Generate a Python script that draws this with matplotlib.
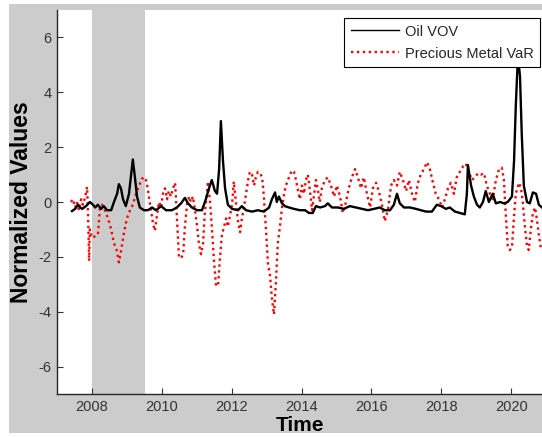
import matplotlib
matplotlib.use("Agg")
import matplotlib.pyplot as plt
from matplotlib.lines import Line2D
from matplotlib.patches import Rectangle

plt.rcParams['font.family'] = ['Liberation Sans', 'DejaVu Sans']
plt.rcParams['axes.unicode_minus'] = False

# Oil VOV (normalized)
oil_t = [2007.43, 2007.52, 2007.60, 2007.66, 2007.72, 2007.83, 2007.94, 2008.03, 2008.09, 2008.17,
         2008.26, 2008.34, 2008.43, 2008.55, 2008.63, 2008.72, 2008.77, 2008.83, 2008.89, 2008.97,
         2009.06, 2009.12, 2009.17, 2009.23, 2009.29, 2009.37, 2009.49, 2009.60, 2009.72, 2009.83,
         2009.98, 2010.12, 2010.29, 2010.43, 2010.55, 2010.66, 2010.75, 2010.86, 2011.01, 2011.15,
         2011.26, 2011.35, 2011.43, 2011.52, 2011.58, 2011.64, 2011.69, 2011.75, 2011.81, 2011.89,
         2012.01, 2012.18, 2012.29, 2012.41, 2012.58, 2012.75, 2012.92, 2013.07, 2013.15, 2013.24,
         2013.29, 2013.35, 2013.44, 2013.52, 2013.64, 2013.78, 2013.95, 2014.10, 2014.21, 2014.32,
         2014.41, 2014.53, 2014.67, 2014.75, 2014.87, 2015.04, 2015.21, 2015.38, 2015.56, 2015.73,
         2015.90, 2016.07, 2016.24, 2016.38, 2016.53, 2016.64, 2016.73, 2016.81, 2016.93, 2017.10,
         2017.27, 2017.41, 2017.56, 2017.73, 2017.87, 2017.99, 2018.13, 2018.24, 2018.39, 2018.53,
         2018.67, 2018.73, 2018.76, 2018.85, 2018.93, 2019.02, 2019.10, 2019.19, 2019.27, 2019.36,
         2019.47, 2019.56, 2019.68, 2019.79, 2019.90, 2020.02, 2020.08, 2020.13, 2020.19, 2020.25,
         2020.30, 2020.36, 2020.45, 2020.53, 2020.62, 2020.71, 2020.79, 2020.88]
oil_v = [-0.33, -0.25, -0.10, -0.20, -0.25, -0.15, 0.00, -0.10, -0.20, -0.10,
         -0.25, -0.15, -0.30, -0.30, 0.00, 0.30, 0.65, 0.50, 0.10, -0.15,
         0.30, 1.00, 1.55, 0.90, 0.20, -0.20, -0.30, -0.30, -0.20, -0.30,
         -0.15, -0.30, -0.30, -0.20, -0.05, 0.15, -0.05, -0.20, -0.30, -0.30,
         0.10, 0.50, 0.80, 0.40, 0.30, 1.20, 2.95, 1.50, 0.50, -0.10,
         -0.25, -0.30, -0.15, -0.30, -0.35, -0.30, -0.35, -0.20, 0.10, 0.35,
         0.00, 0.20, -0.05, -0.15, -0.20, -0.25, -0.30, -0.30, -0.40, -0.40,
         -0.15, -0.20, -0.15, -0.05, -0.20, -0.20, -0.25, -0.15, -0.20, -0.25,
         -0.30, -0.25, -0.20, -0.30, -0.30, -0.10, 0.30, -0.05, -0.20, -0.20,
         -0.25, -0.30, -0.35, -0.35, -0.10, -0.15, -0.25, -0.20, -0.35, -0.40,
         -0.45, 0.30, 1.35, 0.60, 0.20, -0.10, -0.20, 0.00, 0.40, 0.00,
         0.30, -0.05, 0.00, -0.05, 0.00, 0.20, 1.50, 3.50, 5.30, 4.60,
         2.50, 0.60, 0.00, -0.05, 0.35, 0.30, -0.10, -0.20]

# Precious Metal VaR (normalized)
pm_t = [2007.40, 2007.46, 2007.52, 2007.57, 2007.63, 2007.69, 2007.74, 2007.80, 2007.86, 2007.89,
        2007.92, 2007.94, 2008.00, 2008.09, 2008.17, 2008.23, 2008.29, 2008.37, 2008.46, 2008.55,
        2008.63, 2008.72, 2008.77, 2008.83, 2008.92, 2009.00, 2009.09, 2009.17, 2009.26, 2009.35,
        2009.43, 2009.52, 2009.57, 2009.63, 2009.69, 2009.75, 2009.80, 2009.86, 2009.92, 2009.98,
        2010.03, 2010.09, 2010.15, 2010.20, 2010.26, 2010.32, 2010.38, 2010.43, 2010.49, 2010.55,
        2010.61, 2010.66, 2010.72, 2010.78, 2010.83, 2010.89, 2010.95, 2011.01, 2011.06, 2011.12,
        2011.18, 2011.23, 2011.29, 2011.32, 2011.38, 2011.43, 2011.49, 2011.55, 2011.61, 2011.66,
        2011.72, 2011.78, 2011.84, 2011.89, 2011.95, 2012.01, 2012.06, 2012.12, 2012.18, 2012.24,
        2012.29, 2012.35, 2012.41, 2012.47, 2012.52, 2012.58, 2012.64, 2012.69, 2012.75, 2012.81,
        2012.87, 2012.92, 2012.98, 2013.04, 2013.09, 2013.15, 2013.21, 2013.27, 2013.32, 2013.38,
        2013.44, 2013.50, 2013.55, 2013.61, 2013.67, 2013.72, 2013.78, 2013.84, 2013.90, 2013.95,
        2014.01, 2014.07, 2014.12, 2014.18, 2014.24, 2014.30, 2014.35, 2014.41, 2014.47, 2014.52,
        2014.58, 2014.67, 2014.75, 2014.84, 2014.93, 2015.01, 2015.10, 2015.18, 2015.27, 2015.35,
        2015.44, 2015.53, 2015.61, 2015.70, 2015.78, 2015.87, 2015.96, 2016.04, 2016.13, 2016.21,
        2016.30, 2016.38, 2016.47, 2016.56, 2016.64, 2016.73, 2016.81, 2016.90, 2016.99, 2017.07,
        2017.16, 2017.24, 2017.33, 2017.41, 2017.50, 2017.59, 2017.67, 2017.76, 2017.84, 2017.93,
        2018.02, 2018.10, 2018.19, 2018.27, 2018.36, 2018.44, 2018.53, 2018.62, 2018.70, 2018.79,
        2018.87, 2018.96, 2019.05, 2019.13, 2019.22, 2019.30, 2019.39, 2019.47, 2019.56, 2019.65,
        2019.73, 2019.79, 2019.85, 2019.90, 2019.96, 2020.02, 2020.08, 2020.13, 2020.22, 2020.28,
        2020.33, 2020.39, 2020.45, 2020.50, 2020.56, 2020.62, 2020.68, 2020.73, 2020.79, 2020.85]
pm_v = [0.00, 0.10, -0.20, 0.00, -0.30, 0.10, -0.10, 0.15, 0.55, -0.50,
        -2.15, -1.00, -1.30, -1.25, -1.20, -0.20, -0.10, -0.30, -0.60, -1.00,
        -1.50, -1.80, -2.20, -1.80, -1.10, -0.60, -0.30, -0.10, 0.30, 0.60,
        0.85, 0.90, 0.70, 0.20, -0.30, -0.80, -1.05, -0.50, 0.00, -0.20,
        0.30, 0.50, 0.10, 0.40, 0.20, 0.50, 0.70, -0.50, -2.00, -2.05,
        -1.90, -0.90, -0.10, 0.20, 0.00, 0.20, -0.30, -0.90, -1.50, -1.90,
        -1.50, -0.40, 0.30, 0.75, 0.00, -0.90, -2.10, -3.05, -3.05, -2.10,
        -1.20, -0.90, -0.60, -0.90, -0.50, -0.10, 0.75, 0.00, -0.70, -1.10,
        -0.60, -0.20, 0.30, 0.80, 1.10, 1.00, 0.60, 0.90, 1.10, 1.05,
        0.90, 0.20, -1.00, -2.30, -2.60, -3.50, -4.10, -2.80, -1.50, -0.90,
        -0.20, 0.30, 0.60, 0.80, 1.00, 1.15, 1.10, 0.80, 0.40, 0.10,
        0.60, 0.30, 0.80, 1.00, 0.40, -0.30, 0.20, 0.80, 0.40, 0.00,
        0.50, 0.80, 0.90, 0.60, 0.20, 0.60, 0.20, -0.40, 0.00, 0.50,
        0.90, 1.20, 0.90, 0.50, 0.90, 0.30, -0.20, 0.50, 0.70, 0.40,
        -0.10, -0.70, -0.30, 0.60, 0.80, 0.60, 1.10, 0.80, 0.40, 0.80,
        0.30, 0.00, 0.70, 1.00, 1.20, 1.45, 1.20, 0.70, 0.30, 0.10,
        -0.20, 0.10, 0.50, 0.70, 0.30, 0.90, 1.10, 1.30, 1.40, 1.10,
        0.80, 0.90, 1.05, 1.00, 1.05, 0.60, 0.30, 0.10, 0.80, 1.20,
        1.25, 0.80, -0.60, -1.60, -1.75, -1.65, -0.50, 0.30, 0.70, 0.50,
        0.00, -0.90, -1.60, -1.75, -1.00, -0.40, -0.20, -0.60, -1.20, -1.70]

recession = (2008.0, 2009.53)
xticks = [2008, 2010, 2012, 2014, 2016, 2018, 2020]
yticks = [-6, -4, -2, 0, 2, 4, 6]

grey = '#cccccc'
fig = plt.figure(figsize=(5.42, 4.37), dpi=100, facecolor='white')
fig.patches.append(Rectangle((9 / 542, 4 / 437), 1, 429 / 437, transform=fig.transFigure,
                             facecolor=grey, edgecolor='none', zorder=-10))

ax = fig.add_axes([57 / 542, 43 / 437, 485 / 542, 384 / 437])
ax.set_facecolor('white')
ax.axvspan(recession[0], recession[1], color=grey, lw=0, zorder=0)

dots = (0, (1, 1.5))
ax.plot(oil_t, oil_v, color='black', lw=1.7, zorder=3)
ax.plot(pm_t, pm_v, color='red', lw=1.7, linestyle=dots, zorder=2)

ax.set_xlim(2007.0, 2020.88)
ax.set_ylim(-7, 7)
ax.set_xticks(xticks)
ax.set_yticks(yticks)
ax.tick_params(direction='in', length=4, width=0.8, colors='#333333', labelsize=10.5, pad=4)
for s in ['top', 'right']:
    ax.spines[s].set_visible(False)
for s in ['left', 'bottom']:
    ax.spines[s].set_color('#262626')
    ax.spines[s].set_linewidth(1.0)

ax.set_xlabel('Time', fontsize=15, fontweight='bold', labelpad=2)
ax.set_ylabel('Normalized Values', fontsize=16.5, fontweight='bold', labelpad=4)

handles = [Line2D([], [], color='black', lw=1.0),
           Line2D([], [], color='red', lw=1.7, linestyle=dots)]
leg = ax.legend(handles, ['Oil VOV', 'Precious Metal VaR'], loc='upper right',
                bbox_to_anchor=(540 / 542, 419 / 437), bbox_transform=fig.transFigure,
                fontsize=10.5, frameon=True, fancybox=False, framealpha=1,
                edgecolor='black', borderaxespad=0, handlelength=3.3,
                labelspacing=0.55, handletextpad=0.4, borderpad=0.45)
leg.get_frame().set_linewidth(0.8)
for t in leg.get_texts():
    t.set_color('#262626')

fig.savefig('out.png', dpi=100, facecolor=fig.get_facecolor())
